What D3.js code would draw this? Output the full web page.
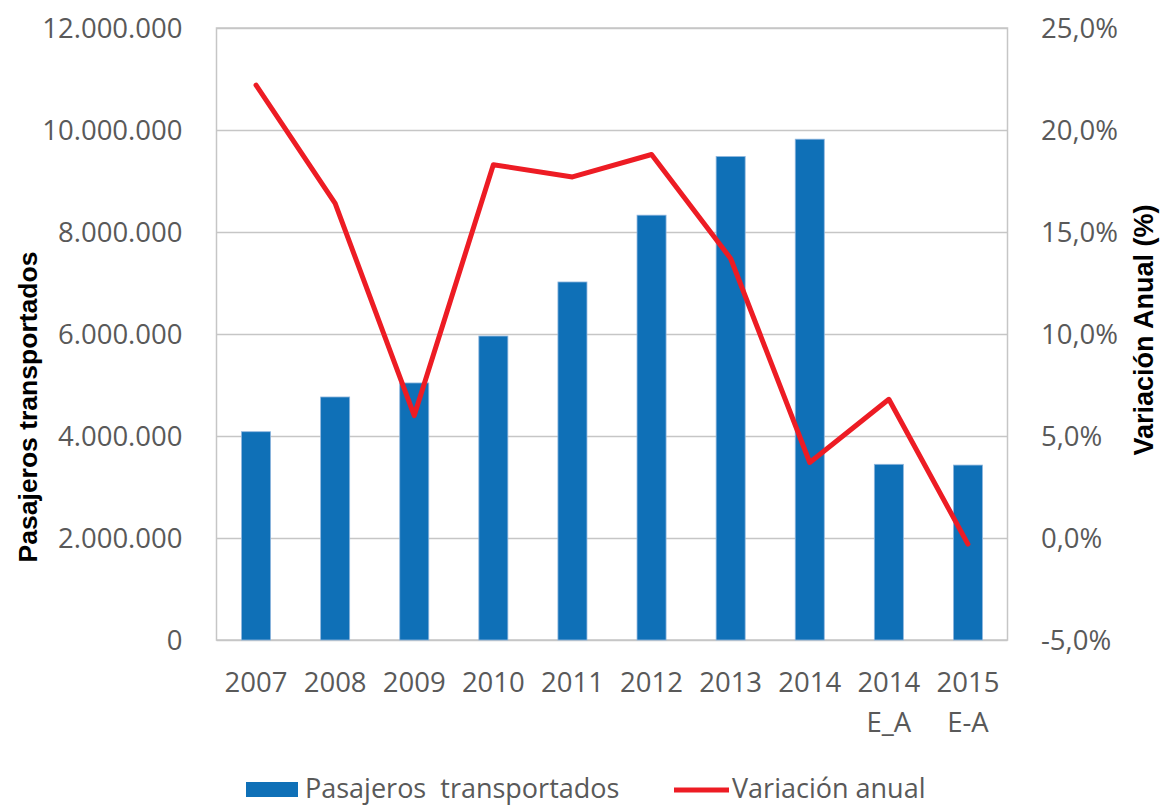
<!DOCTYPE html>
<html>
<head>
<meta charset="utf-8">
<script src="https://cdn.jsdelivr.net/npm/d3@7"></script>
<style>
  body { margin: 0; background: #fff; }
  text { font-family: "Open Sans", sans-serif; fill: #595959; }
  .title { font-family: "Liberation Sans", Arial, sans-serif; font-weight: bold; fill: #000; }
</style>
</head>
<body>
<script>
// data
var categories = ["2007", "2008", "2009", "2010", "2011", "2012", "2013", "2014", "2014\nE_A", "2015\nE-A"];
var pasajeros = [4084000, 4765000, 5040000, 5960000, 7020000, 8330000, 9480000, 9820000, 3445000, 3430000];
var variacion = [22.2, 16.4, 6.0, 18.3, 17.7, 18.8, 13.7, 3.7, 6.8, -0.3];
var leftTicks = [0, 2000000, 4000000, 6000000, 8000000, 10000000, 12000000];
var rightTicks = [-5, 0, 5, 10, 15, 20, 25];

var width = 1163, height = 805;
var margin = {top: 28, right: 155.5, bottom: 165, left: 216.5};
var innerW = width - margin.left - margin.right,
    innerH = height - margin.top - margin.bottom;

var es = d3.formatLocale({decimal: ",", thousands: ".", grouping: [3], currency: ["", "€"], minus: "-"});
var fmtInt = es.format(",d"), fmtPct = es.format(".1f");

var svg = d3.select("body").append("svg")
    .attr("width", width)
    .attr("height", height);

var g = svg.append("g")
    .attr("transform", "translate(" + margin.left + "," + margin.top + ")");

// scales
var x = d3.scaleBand().domain(categories).range([0, innerW])
    .paddingInner(0.633).paddingOuter(0.3165);
var y = d3.scaleLinear().domain([0, 12000000]).range([innerH, 0]);
var y2 = d3.scaleLinear().domain([-5, 25]).range([innerH, 0]);

// gridlines
g.append("g")
    .call(d3.axisLeft(y).tickValues(leftTicks).tickSize(-innerW).tickFormat(""))
    .call(s => s.select(".domain").remove())
    .selectAll("line").attr("stroke", "#c6c6c6").attr("stroke-width", 1.5);

// frame
g.append("rect")
    .attr("width", innerW).attr("height", innerH)
    .attr("fill", "none").attr("stroke", "#c6c6c6").attr("stroke-width", 1.5);

// bars
g.selectAll(".bar")
    .data(pasajeros)
  .enter().append("rect")
    .attr("class", "bar")
    .attr("x", (d, i) => x(categories[i]))
    .attr("width", x.bandwidth())
    .attr("y", d => y(d))
    .attr("height", d => innerH - y(d))
    .attr("fill", "#0f70b7")
    .attr("stroke", "#8fb6de")
    .attr("stroke-width", 0.8);

// line
var line = d3.line()
    .x((d, i) => x(categories[i]) + x.bandwidth() / 2)
    .y(d => y2(d));

g.append("path")
    .datum(variacion)
    .attr("d", line)
    .attr("fill", "none")
    .attr("stroke", "#ed1c24")
    .attr("stroke-width", 5)
    .attr("stroke-linejoin", "round")
    .attr("stroke-linecap", "round");

// left axis labels
var yAxis = g.append("g")
    .attr("transform", "translate(-31,0)")
    .call(d3.axisLeft(y).tickValues(leftTicks).tickSize(0).tickFormat(fmtInt));
yAxis.select(".domain").remove();
yAxis.selectAll("text").attr("font-size", 27.5).attr("font-family", null).attr("dy", "0.36em");

// right axis labels
var y2Axis = g.append("g")
    .attr("transform", "translate(" + (innerW + 30.5) + ",0)")
    .call(d3.axisRight(y2).tickValues(rightTicks).tickSize(0).tickFormat(d => fmtPct(d) + "%"));
y2Axis.select(".domain").remove();
y2Axis.selectAll("text").attr("font-size", 27.5).attr("font-family", null).attr("dy", "0.36em");

// category labels, two lines where needed
var xl = g.append("g").selectAll("text")
    .data(categories)
  .enter().append("text")
    .attr("text-anchor", "middle")
    .attr("font-size", 27.5)
    .attr("transform", d => "translate(" + (x(d) + x.bandwidth() / 2) + "," + (innerH + 52) + ")");
xl.selectAll("tspan")
    .data(d => d.split("\n"))
  .enter().append("tspan")
    .attr("x", 0)
    .attr("y", (d, i) => i * 40)
    .text(d => d);

// axis titles
svg.append("text")
    .attr("class", "title")
    .attr("transform", "translate(37,407) rotate(-90)")
    .attr("text-anchor", "middle")
    .attr("font-size", 26.5)
    .text("Pasajeros transportados");

svg.append("text")
    .attr("class", "title")
    .attr("transform", "translate(1153,330) rotate(-90)")
    .attr("text-anchor", "middle")
    .attr("font-size", 27)
    .text("Variación Anual (%)");

// legend
var legend = svg.append("g");
legend.append("rect")
    .attr("x", 246).attr("y", 782)
    .attr("width", 52).attr("height", 15)
    .attr("fill", "#0f70b7");
legend.append("text")
    .attr("x", 305).attr("y", 798)
    .attr("font-size", 27)
    .attr("xml:space", "preserve")
    .style("white-space", "pre")
    .text("Pasajeros  transportados");
legend.append("line")
    .attr("x1", 674).attr("x2", 729)
    .attr("y1", 790).attr("y2", 790)
    .attr("stroke", "#ed1c24")
    .attr("stroke-width", 5);
legend.append("text")
    .attr("x", 732).attr("y", 798)
    .attr("font-size", 27)
    .text("Variación anual");
</script>
</body>
</html>
